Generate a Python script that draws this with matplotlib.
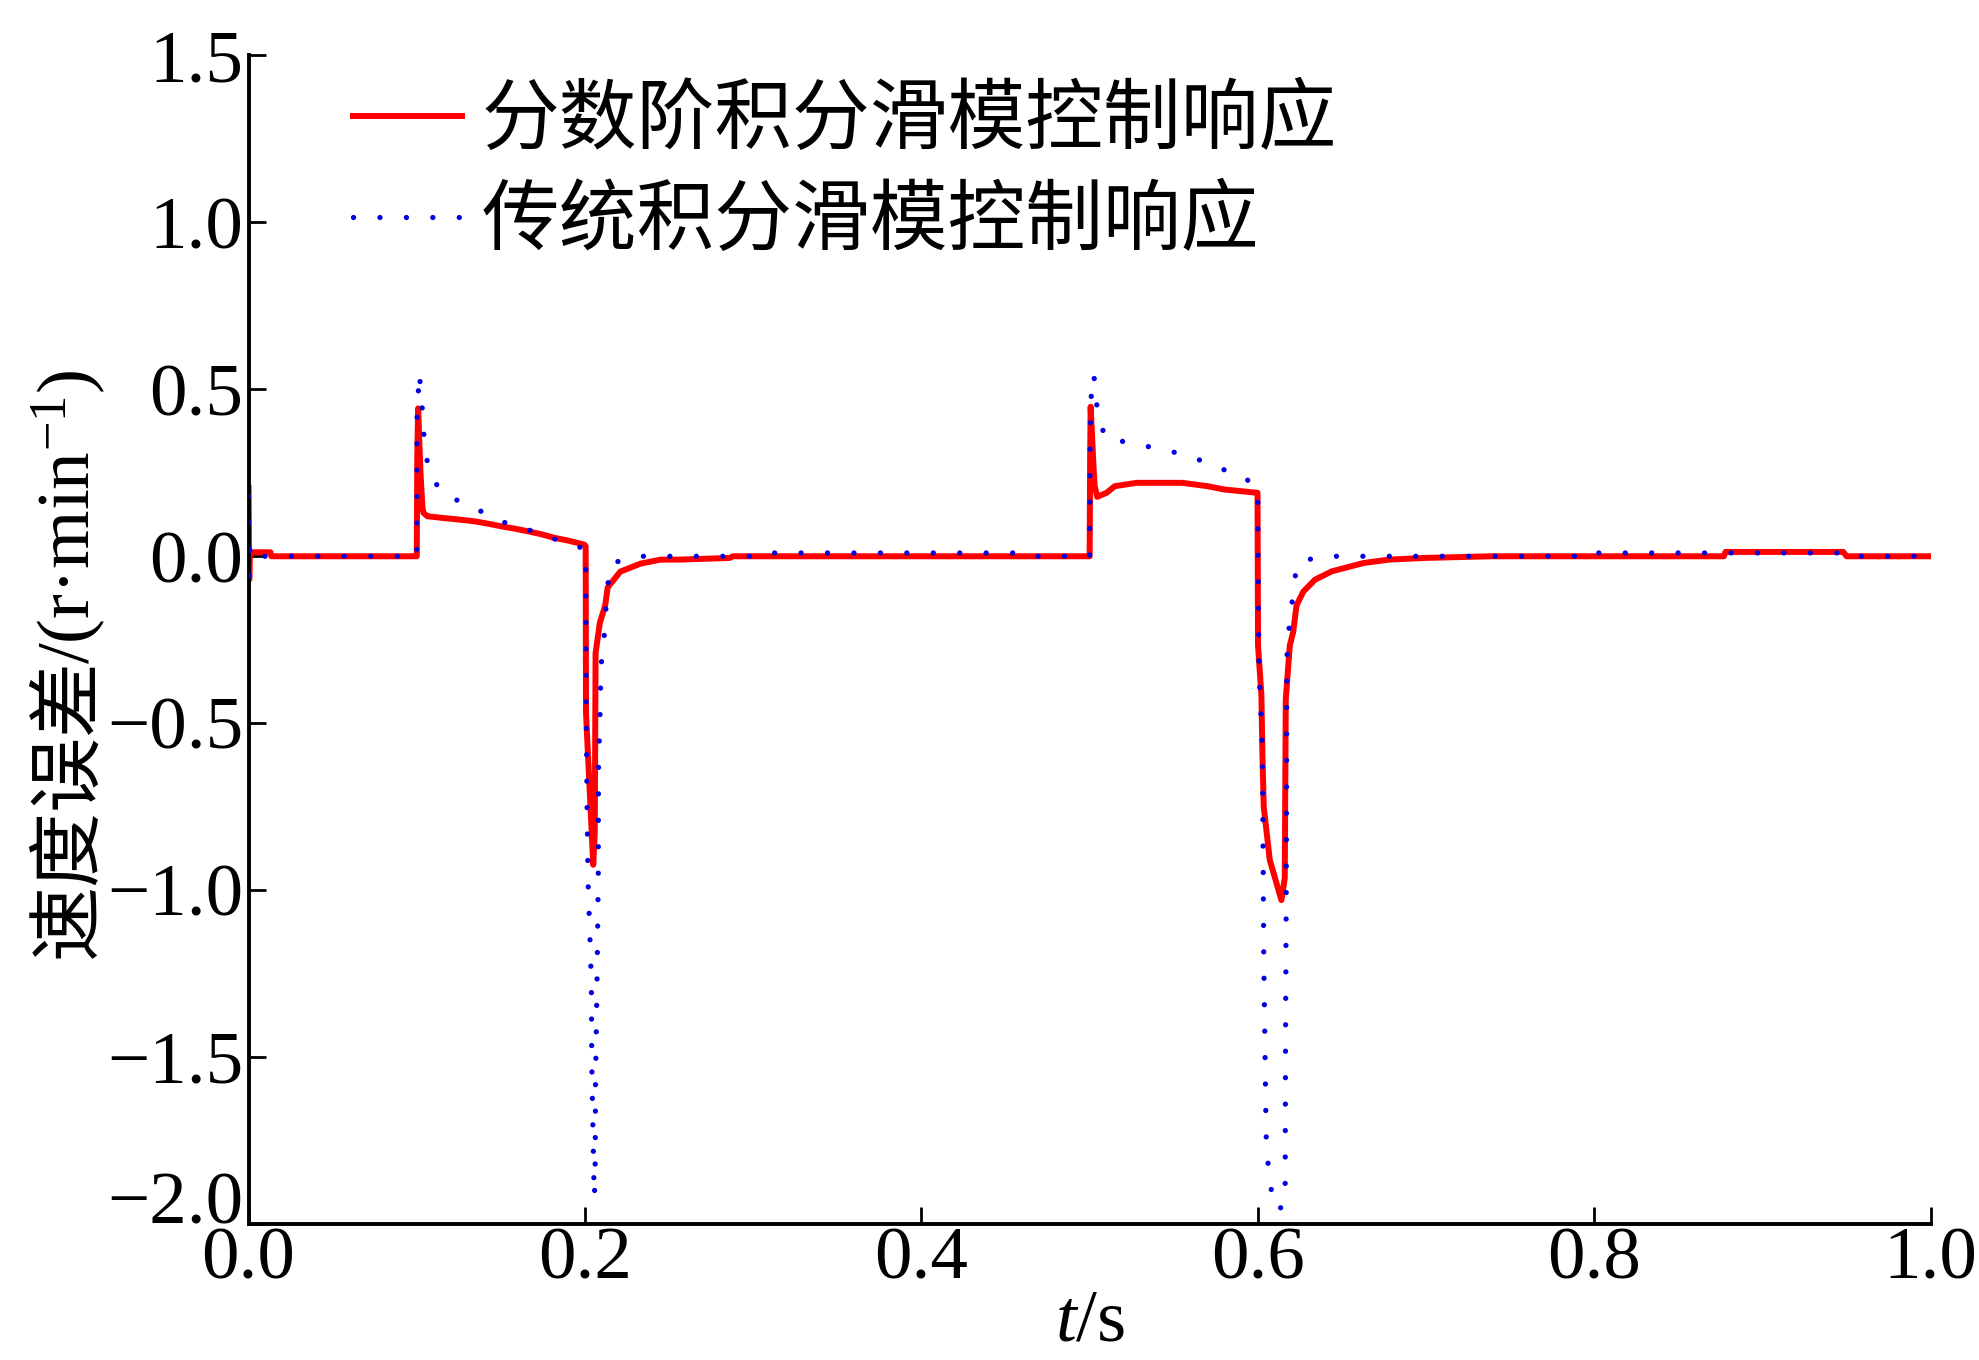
import numpy as np
import matplotlib
matplotlib.use('Agg')
import matplotlib.pyplot as plt
from matplotlib.transforms import IdentityTransform

plt.rcParams['font.family'] = ['Liberation Serif', 'Noto Sans CJK SC']
plt.rcParams['mathtext.fontset'] = 'custom'
plt.rcParams['mathtext.rm'] = 'Liberation Serif'
plt.rcParams['mathtext.it'] = 'Liberation Serif:italic'
plt.rcParams['axes.unicode_minus'] = True

# fractional-order integral sliding mode (red)
t_frac = [0.0, 0.0004, 0.0008, 0.0012, 0.013, 0.0135, 0.1, 0.1003, 0.1008, 0.1022,
          0.1034, 0.104, 0.1063, 0.115, 0.125, 0.134, 0.142, 0.15, 0.158, 0.166,
          0.174, 0.182, 0.19, 0.1995, 0.2004, 0.2006, 0.2049, 0.2058, 0.2063, 0.2088,
          0.212, 0.2135, 0.221, 0.233, 0.245, 0.256, 0.286, 0.288, 0.5, 0.5003,
          0.5006, 0.5025, 0.503, 0.5045, 0.51, 0.515, 0.528, 0.555, 0.57, 0.58,
          0.59, 0.5998, 0.6001, 0.6021, 0.6027, 0.6035, 0.6071, 0.614, 0.616, 0.6166,
          0.619, 0.621, 0.623, 0.627, 0.634, 0.644, 0.663, 0.678, 0.699, 0.739,
          0.877, 0.878, 0.948, 0.95, 1.0]
v_frac = [0.205, -0.07, 0.012, 0.012, 0.012, 0.0, 0.0, 0.30, 0.443, 0.25,
          0.145, 0.13, 0.12, 0.115, 0.11, 0.105, 0.098, 0.09, 0.083, 0.075,
          0.066, 0.055, 0.047, 0.035, 0.03, -0.47, -0.924, -0.83, -0.29, -0.20,
          -0.147, -0.093, -0.046, -0.022, -0.01, -0.01, -0.005, 0.0, 0.0, 0.30,
          0.448, 0.25, 0.21, 0.178, 0.19, 0.21, 0.22, 0.22, 0.21, 0.20,
          0.195, 0.19, -0.267, -0.415, -0.59, -0.75, -0.91, -1.03, -0.964, -0.428,
          -0.267, -0.227, -0.147, -0.106, -0.07, -0.045, -0.02, -0.01, -0.005, 0.0,
          0.0, 0.013, 0.013, 0.0, 0.0]

# conventional integral sliding mode (blue dotted)
t_conv = [0.0, 0.0004, 0.0008, 0.003, 0.1, 0.1001, 0.1015, 0.1029, 0.1048, 0.1078,
          0.1153, 0.1282, 0.1415, 0.154, 0.1678, 0.1807, 0.185, 0.198, 0.2005, 0.2008,
          0.2012, 0.2018, 0.2028, 0.2038, 0.2040, 0.2048, 0.2055, 0.2060, 0.2063, 0.2072,
          0.2079, 0.2080, 0.2089, 0.2095, 0.2113, 0.2122, 0.2132, 0.2152, 0.228, 0.30,
          0.303, 0.457, 0.46, 0.5, 0.5003, 0.5007, 0.5025, 0.5035, 0.5051, 0.51,
          0.525, 0.5389, 0.5517, 0.5646, 0.5775, 0.5913, 0.6, 0.6001, 0.6007, 0.6027,
          0.6035, 0.6049, 0.6059, 0.6073, 0.6115, 0.6162, 0.6165, 0.617, 0.6172, 0.6178,
          0.6198, 0.6212, 0.6236, 0.6371, 0.798, 0.799, 0.95, 0.951, 1.0]
v_conv = [0.18, -0.06, 0.03, 0.0, 0.0, 0.41, 0.549, 0.47, 0.32, 0.246,
          0.188, 0.158, 0.127, 0.097, 0.077, 0.052, 0.05, 0.025, 0.02, -0.5,
          -0.74, -0.97, -1.12, -1.28, -1.51, -1.74, -1.92, -1.87, -1.56, -1.26,
          -0.95, -0.64, -0.48, -0.33, -0.25, -0.175, -0.10, -0.024, 0.0, 0.0,
          0.01, 0.01, 0.0, 0.0, 0.35, 0.468, 0.545, 0.489, 0.416, 0.348,
          0.342, 0.323, 0.31, 0.29, 0.263, 0.241, 0.198, 0.04, -0.343, -0.573,
          -1.19, -1.733, -1.809, -1.885, -1.96, -1.94, -1.40, -0.86, -0.321, -0.245,
          -0.169, -0.091, -0.02, 0.0, 0.0, 0.01, 0.01, 0.0, 0.0]

label_frac = '分数阶积分滑模控制响应'
label_conv = '传统积分滑模控制响应'
ylabel_cn = '速度误差'
ylabel_unit = '/(r·min$^{-1}$)'
x_ticks = [0.0, 0.2, 0.4, 0.6, 0.8, 1.0]
y_ticks = [-2.0, -1.5, -1.0, -0.5, 0.0, 0.5, 1.0, 1.5]

fs = 54
fig = plt.figure(figsize=(19.79, 13.6), dpi=100)
ax = fig.add_axes([0.1256, 0.1, 0.85, 0.8592])

ax.plot(t_frac, v_frac, '-', color='#ff0000', lw=4.3, label=label_frac, zorder=2)
ax.plot(t_conv, v_conv, color='#0000e0', lw=3.8, linestyle=(0, (0.01, 5.0)),
        dash_capstyle='round', label=label_conv, zorder=3)

ax.set_xlim(0, 1)
ax.set_ylim(-2.0, 1.5)
ax.set_xticks(x_ticks)
ax.set_yticks(y_ticks)
ax.set_xticklabels(['%.1f' % v for v in x_ticks])
ax.set_yticklabels(['%.1f' % v if v >= 0 else '\u2212%.1f' % -v for v in y_ticks])
for lab in ax.get_yticklabels():
    if lab.get_text() == '\u22122.0':
        lab.set_verticalalignment('baseline')

for side in ['top', 'right']:
    ax.spines[side].set_visible(False)
for side in ['left', 'bottom']:
    ax.spines[side].set_linewidth(2.8)
ax.tick_params(direction='in', length=12, width=2, labelsize=fs, pad=2)
ax.tick_params(axis='y', pad=4)

ax.set_xlabel('$t$/s', fontsize=fs, labelpad=-4)

# y label in two pieces so the CJK part can use the CJK font
base_x = 90
y0 = 1360 - 958
t1 = fig.text(base_x, y0, ylabel_cn, fontsize=fs, rotation=90,
              rotation_mode='anchor', ha='left', va='baseline',
              transform=IdentityTransform())
fig.canvas.draw()
bb = t1.get_window_extent()
fig.text(base_x, bb.y1 - 6, ylabel_unit, fontsize=fs, rotation=90,
         rotation_mode='anchor', ha='left', va='baseline',
         transform=IdentityTransform())

leg = ax.legend(loc='upper left', bbox_to_anchor=(0.062, 0.973), frameon=False,
                fontsize=56, handlelength=1.4, handletextpad=0.25,
                labelspacing=0.36, borderpad=0, borderaxespad=0)

fig.savefig('out.png', dpi=100)
